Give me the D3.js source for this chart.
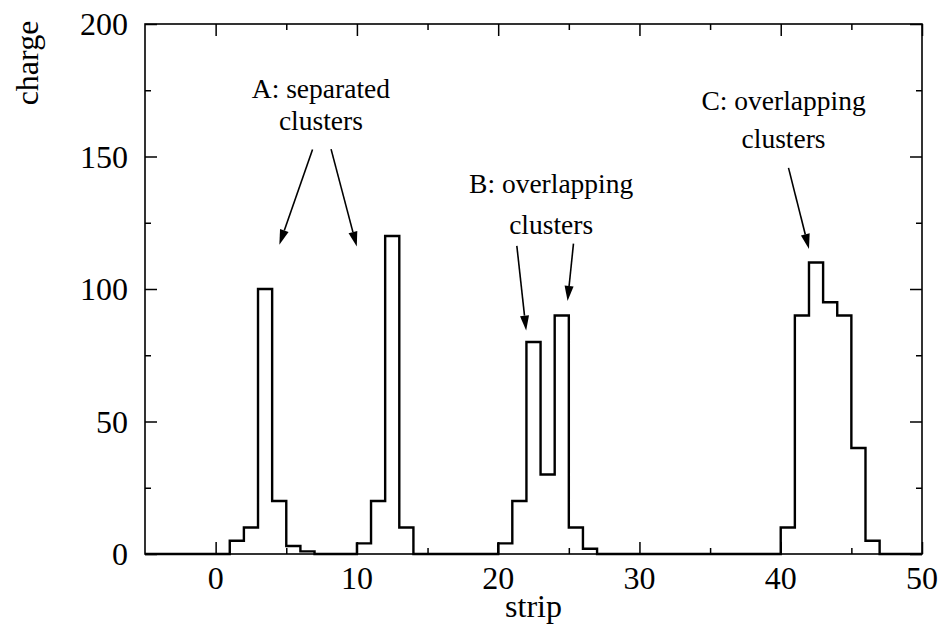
<!DOCTYPE html>
<html>
<head>
<meta charset="utf-8">
<script src="https://cdn.jsdelivr.net/npm/d3@7"></script>
<style>
  body { margin: 0; background: #fff; }
  svg text { font-family: "Liberation Serif", "Times New Roman", serif; fill: #000; }
</style>
</head>
<body>
<svg id="chart" width="942" height="639"></svg>
<script>
// charge per strip, strip numbers run from firstStrip upward (bin [s, s+1))
var firstStrip = -5;
var charges = [
  0, 0, 0, 0, 0,           // -5 .. -1
  0, 5, 10, 100, 20, 3, 1, 0, 0, 0,   // 0 .. 9
  4, 20, 120, 10, 0, 0, 0, 0, 0, 0,   // 10 .. 19
  4, 20, 80, 30, 90, 10, 2, 0, 0, 0,  // 20 .. 29
  0, 0, 0, 0, 0, 0, 0, 0, 0, 0,       // 30 .. 39
  10, 90, 110, 95, 90, 40, 5, 0, 0, 0 // 40 .. 49
];

var xMajor = [0, 10, 20, 30, 40, 50];
var xMinor = [5, 15, 25, 35, 45];
var yMajor = [0, 50, 100, 150, 200];
var yMinor = [25, 75, 125, 175];

// annotation text (data coords of centre / baseline)
var notes = [
  { lines: ["A: separated", "clusters"], x: 7.45, y: [172.2, 160.1] },
  { lines: ["B: overlapping", "clusters"], x: 23.75, y: [136.2, 120.8] },
  { lines: ["C: overlapping", "clusters"], x: 40.2, y: [167.7, 153.2] }
];
// arrows: from [x, y] to [x, y] in data coords
var arrows = [
  [[6.86, 152.6], [4.51, 116.7]],
  [[8.17, 152.8], [9.99, 116.0]],
  [[21.32, 116.3], [21.98, 84.3]],
  [[25.33, 117.1], [24.91, 95.5]],
  [[40.55, 145.7], [42.0, 115.1]]
];

var svg = d3.select("#chart");
var pL = 145, pR = 922, pT = 24, pB = 554;

var x = d3.scaleLinear().domain([-5, 50]).range([pL, pR]);
var y = d3.scaleLinear().domain([0, 200]).range([pB, pT]);

// histogram as step line
var pts = charges.map(function (c, i) { return [firstStrip + i, c]; });
pts.push([firstStrip + charges.length, 0]);
var line = d3.line()
  .x(function (d) { return x(d[0]); })
  .y(function (d) { return y(d[1]); })
  .curve(d3.curveStepAfter);

svg.append("path")
  .datum(pts)
  .attr("d", line)
  .attr("fill", "none")
  .attr("stroke", "#000")
  .attr("stroke-width", 2.4)
  .attr("stroke-linejoin", "miter");

// inward ticks on all four sides
function ticks(axisFn, scale, vals, size, tx, ty) {
  var g = svg.append("g")
    .attr("transform", "translate(" + tx + "," + ty + ")")
    .call(axisFn(scale).tickValues(vals).tickSize(-size).tickFormat(""));
  g.select(".domain").remove();
  g.selectAll(".tick line").attr("stroke", "#000").attr("stroke-width", 1.5);
  return g;
}
ticks(d3.axisBottom, x, xMajor, 12, 0, pB);
ticks(d3.axisBottom, x, xMinor, 6, 0, pB);
ticks(d3.axisTop, x, xMajor, 12, 0, pT);
ticks(d3.axisTop, x, xMinor, 6, 0, pT);
ticks(d3.axisLeft, y, yMajor, 12, pL, 0);
ticks(d3.axisLeft, y, yMinor, 6, pL, 0);
ticks(d3.axisRight, y, yMajor, 12, pR, 0);
ticks(d3.axisRight, y, yMinor, 6, pR, 0);

// frame
svg.append("rect")
  .attr("x", pL).attr("y", pT)
  .attr("width", pR - pL).attr("height", pB - pT)
  .attr("fill", "none").attr("stroke", "#000").attr("stroke-width", 1.6);

// tick labels
svg.selectAll(".xl").data(xMajor).enter().append("text")
  .attr("x", function (d) { return x(d); })
  .attr("y", 589)
  .attr("text-anchor", "middle")
  .style("font-size", "32px")
  .text(function (d) { return d; });

svg.selectAll(".yl").data(yMajor).enter().append("text")
  .attr("x", 128)
  .attr("y", function (d) { return y(d) + 11; })
  .attr("text-anchor", "end")
  .style("font-size", "32px")
  .text(function (d) { return d; });

// axis titles
svg.append("text")
  .attr("x", (pL + pR) / 2).attr("y", 617)
  .attr("text-anchor", "middle")
  .style("font-size", "32px")
  .text("strip");

svg.append("text")
  .attr("transform", "translate(38,63) rotate(-90)")
  .attr("text-anchor", "middle")
  .style("font-size", "32px")
  .text("charge");

// annotations
notes.forEach(function (n) {
  n.lines.forEach(function (t, i) {
    svg.append("text")
      .attr("x", x(n.x)).attr("y", y(n.y[i]))
      .attr("text-anchor", "middle")
      .style("font-size", "27.5px")
      .text(t);
  });
});

arrows.forEach(function (a) {
  var x0 = x(a[0][0]), y0 = y(a[0][1]), x1 = x(a[1][0]), y1 = y(a[1][1]);
  var dx = x1 - x0, dy = y1 - y0, len = Math.sqrt(dx * dx + dy * dy);
  var ux = dx / len, uy = dy / len;
  var hl = 15, hw = 4.5;
  var bx = x1 - ux * hl, by = y1 - uy * hl;
  svg.append("line")
    .attr("x1", x0).attr("y1", y0).attr("x2", bx).attr("y2", by)
    .attr("stroke", "#000").attr("stroke-width", 1.6);
  svg.append("path")
    .attr("d", "M" + x1 + "," + y1 +
      "L" + (bx - uy * hw) + "," + (by + ux * hw) +
      "L" + (bx + uy * hw) + "," + (by - ux * hw) + "Z")
    .attr("fill", "#000");
});
</script>
</body>
</html>
